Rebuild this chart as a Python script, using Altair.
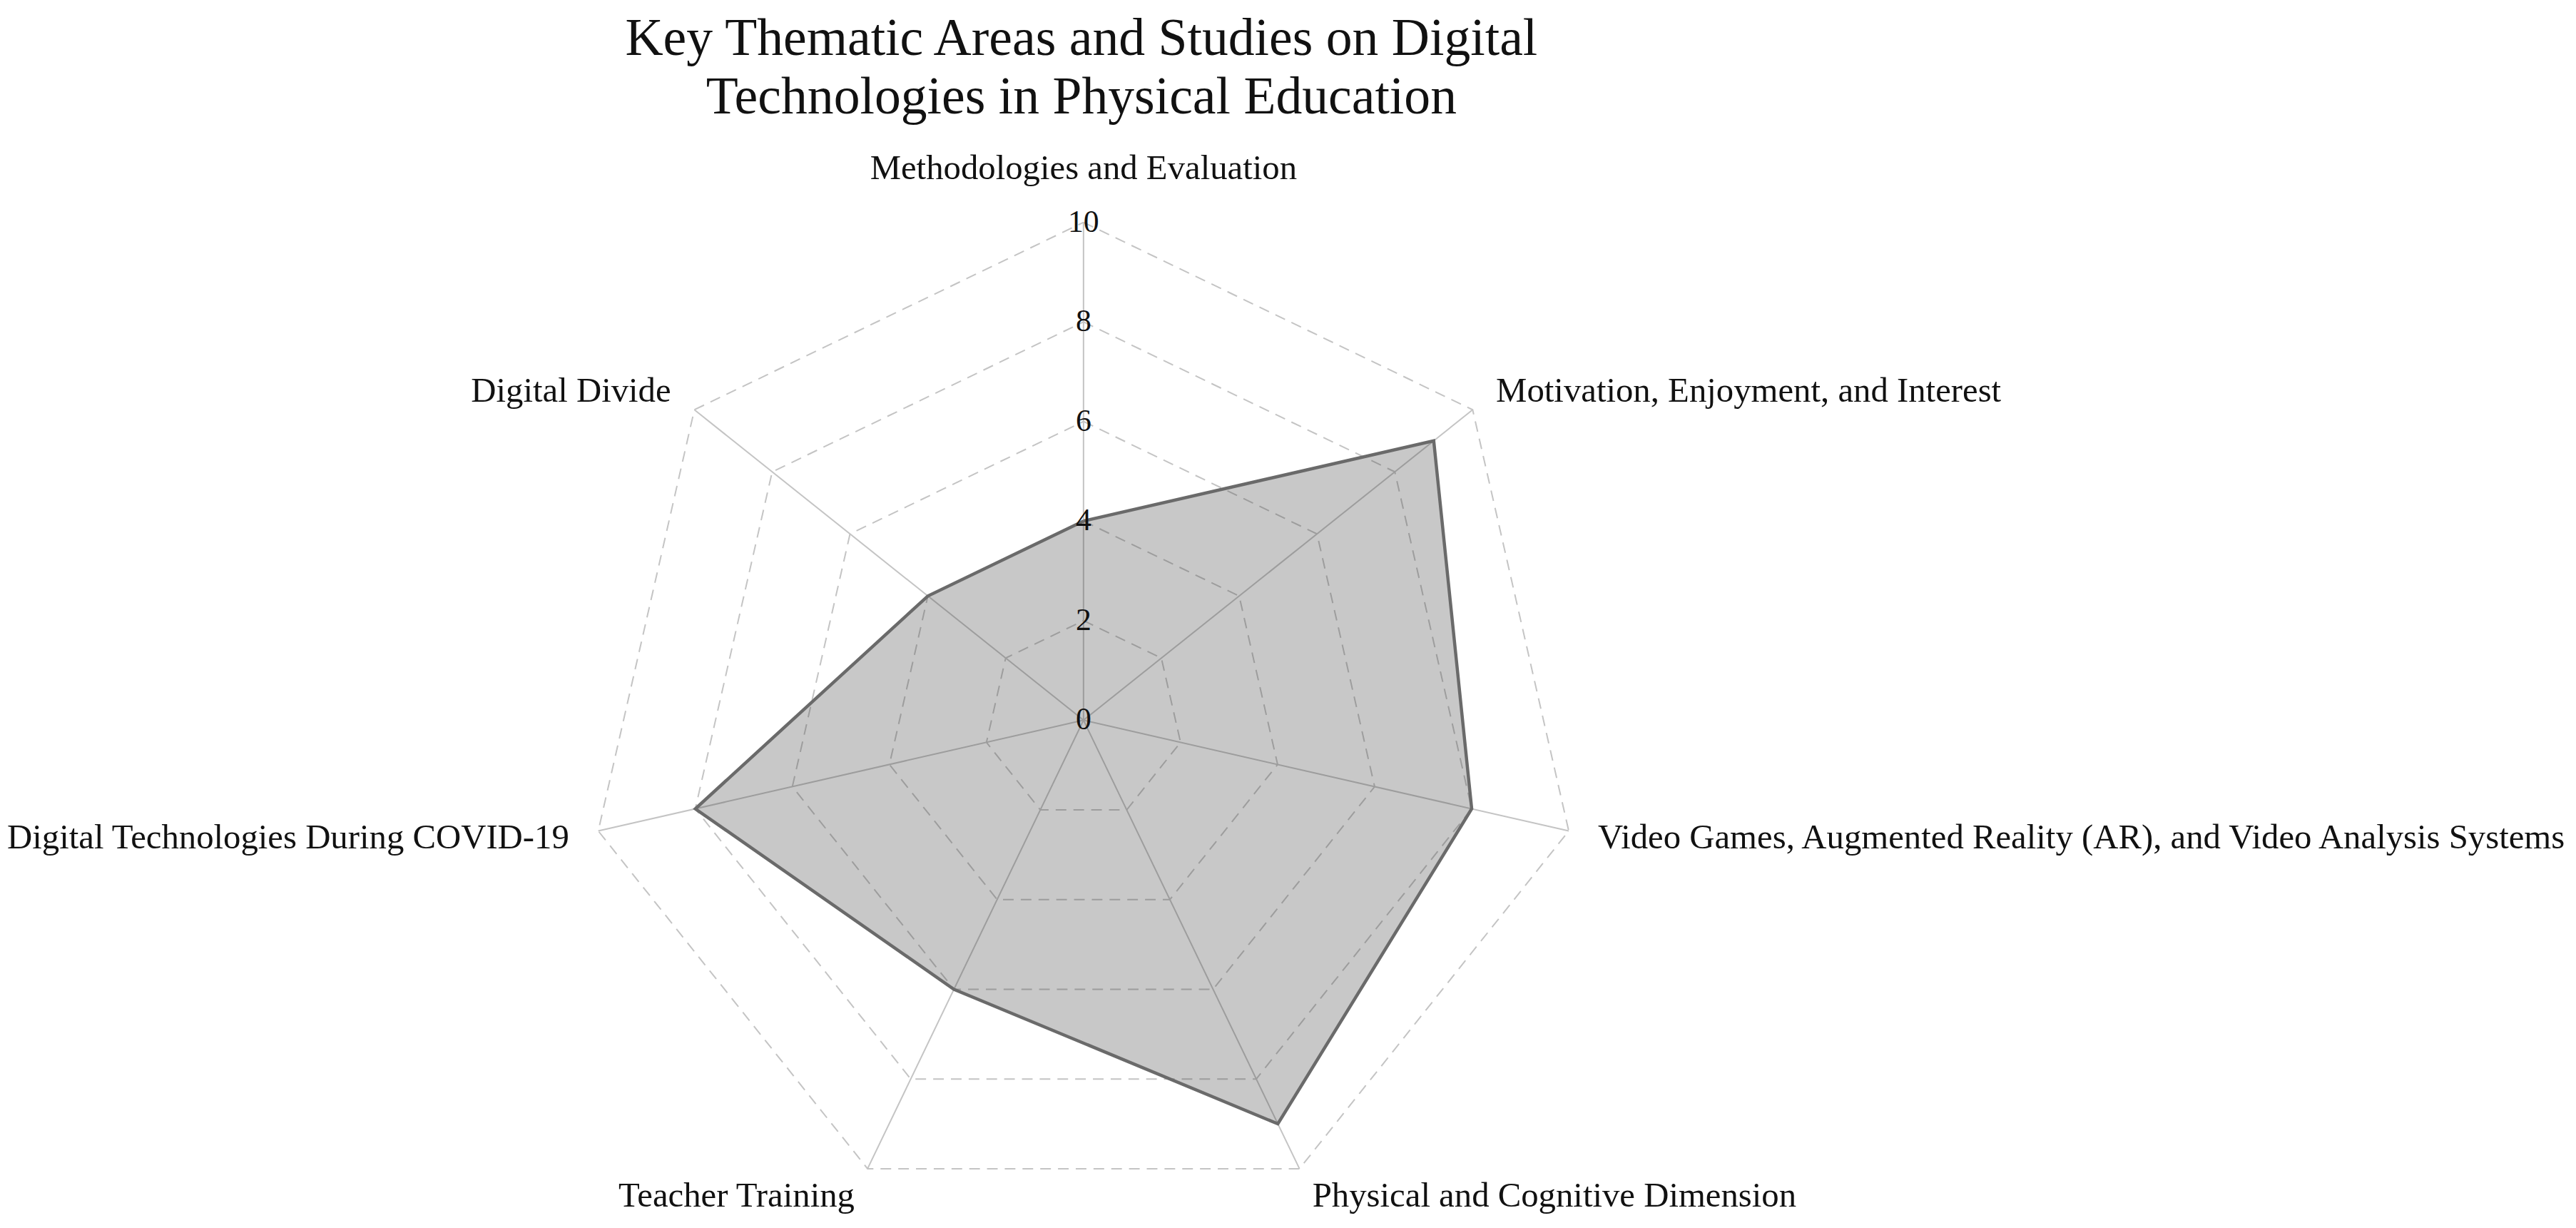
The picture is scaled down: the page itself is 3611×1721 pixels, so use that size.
import altair as alt
import pandas as pd

# ---------------- data ----------------
categories = [
    "Methodologies and Evaluation",
    "Motivation, Enjoyment, and Interest",
    "Video Games, Augmented Reality (AR), and Video Analysis Systems",
    "Physical and Cognitive Dimension",
    "Teacher Training",
    "Digital Technologies During COVID-19",
    "Digital Divide",
]
values = [4, 9, 8, 9, 6, 8, 4]
grid_levels = [2, 4, 6, 8, 10]
tick_values = [0, 2, 4, 6, 8, 10]
r_max = 10
title_line1 = "Key Thematic Areas and Studies on Digital"
title_line2 = "Technologies in Physical Education"

FONT = "Liberation Serif"
N = len(categories)

# ---------------- tables ----------------
poly_df = pd.DataFrame({
    "idx": list(range(N)) + [N],
    "category": categories + [categories[0]],
    "value": values + [values[0]],
})
ring_rows = []
for lv in grid_levels:
    for i in range(N + 1):
        ring_rows.append({"level": lv, "idx": i})
ring_df = pd.DataFrame(ring_rows)
spoke_df = pd.DataFrame({"idx": list(range(N)), "value": [r_max] * N})
label_df = pd.DataFrame({"idx": list(range(N)), "category": categories, "value": [r_max] * N})
tick_df = pd.DataFrame({"tick": tick_values, "label": [str(t) for t in tick_values]})

# ---------------- scales ----------------
W, H = 3590, 1700
xs = alt.Scale(domain=[-21.469, 29.743], nice=False, zero=False)
ys = alt.Scale(domain=[-9.957, 14.294], nice=False, zero=False)

ANG = "2*PI*datum.idx/%d" % N


def polar(ch, rfield):
    return ch.transform_calculate(
        px=f"datum.{rfield}*sin({ANG})",
        py=f"datum.{rfield}*cos({ANG})",
    )


X = alt.X("px:Q", scale=xs, axis=None)
Y = alt.Y("py:Q", scale=ys, axis=None)

rings = polar(alt.Chart(ring_df), "level").mark_line(
    stroke="#c4c4c4", strokeWidth=2, strokeDash=[15, 10]
).encode(x=X, y=Y, detail="level:N", order="idx:Q")

spokes = polar(alt.Chart(spoke_df), "value").transform_calculate(
    ox="0", oy="0"
).mark_rule(stroke="#c4c4c4", strokeWidth=2).encode(
    x=alt.X("ox:Q", scale=xs, axis=None),
    y=alt.Y("oy:Q", scale=ys, axis=None),
    x2="px:Q",
    y2="py:Q",
)

area = polar(alt.Chart(poly_df), "value").mark_line(
    fill="#333333", fillOpacity=0.27, stroke="#6a6a6a", strokeWidth=4.5,
    strokeJoin="miter"
).encode(x=X, y=Y, order="idx:Q")

LAB_FS = 49
lab_base = alt.Chart(label_df).transform_calculate(
    lr="datum.value + 0.6"
).transform_calculate(
    px=f"datum.lr*sin({ANG})",
    py=f"datum.lr*cos({ANG})",
)
lab_top = alt.Chart(label_df).transform_filter("datum.idx == 0").transform_calculate(
    px=f"datum.value*sin({ANG})", py=f"datum.value*cos({ANG})"
).mark_text(font=FONT, fontSize=LAB_FS, color="#111111", align="center",
            baseline="middle", dy=-76).encode(x=X, y=Y, text="category:N")
lab_right = lab_base.transform_filter("datum.idx >= 1 && datum.idx <= 3").mark_text(
    font=FONT, fontSize=LAB_FS, color="#111111", align="left", baseline="middle"
).encode(x=X, y=Y, text="category:N")
lab_left = lab_base.transform_filter("datum.idx >= 4").mark_text(
    font=FONT, fontSize=LAB_FS, color="#111111", align="right", baseline="middle"
).encode(x=X, y=Y, text="category:N")

ticks = alt.Chart(tick_df).transform_calculate(zx="0").mark_text(
    font=FONT, fontSize=44, color="#111111", align="center", baseline="middle"
).encode(
    x=alt.X("zx:Q", scale=xs, axis=None),
    y=alt.Y("tick:Q", scale=ys, axis=None),
    text="label:N",
)

t1 = alt.Chart(pd.DataFrame({"t": [title_line1]})).mark_text(
    font=FONT, fontSize=74, color="#111111", align="center", baseline="middle"
).encode(x=alt.value(1502), y=alt.value(43), text="t:N")
t2 = alt.Chart(pd.DataFrame({"t": [title_line2]})).mark_text(
    font=FONT, fontSize=74, color="#111111", align="center", baseline="middle"
).encode(x=alt.value(1502), y=alt.value(126), text="t:N")

chart = alt.layer(
    rings, spokes, area, lab_top, lab_right, lab_left, ticks, t1, t2
).properties(width=W, height=H, padding=0, background="white").configure_view(stroke=None)

chart.save("out.html", embed_options={"renderer": "svg", "actions": False})
